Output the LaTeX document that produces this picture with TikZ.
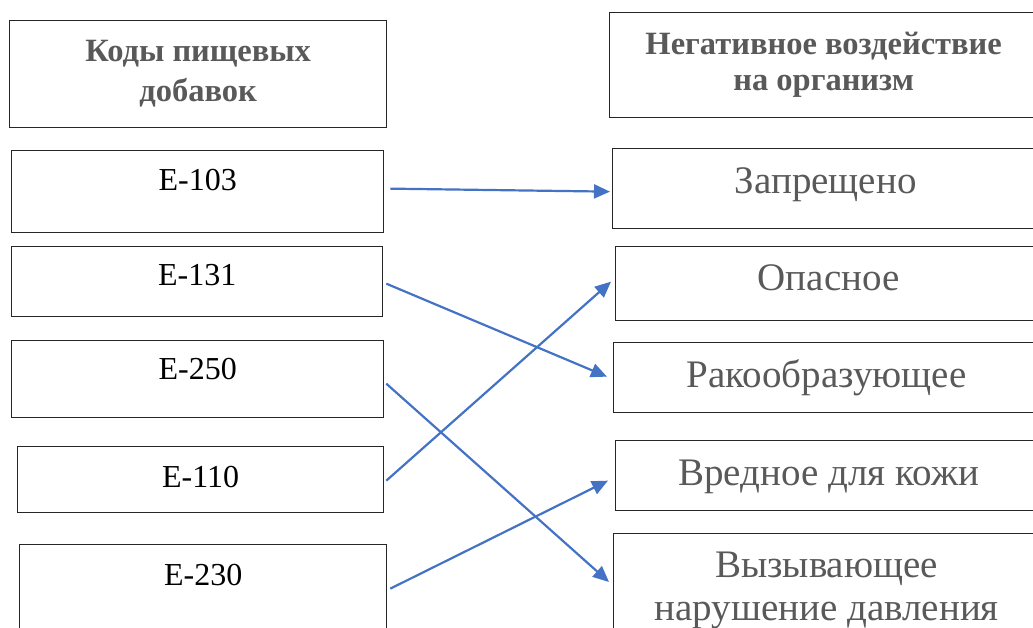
\documentclass[tikz,border=0pt]{standalone}
\usepackage{fontspec}
\setmainfont{Liberation Serif}
\usetikzlibrary{arrows.meta,calc}

\definecolor{linkblue}{HTML}{4472C4}
\definecolor{txtgray}{HTML}{595959}

\tikzset{
  box/.style={draw=black!85, line width=1.3pt, anchor=north west, inner sep=0pt},
  code/.style={box, font=\fontsize{32}{38}\selectfont},
  effect/.style={box, minimum width=426pt, text=txtgray, font=\fontsize{39}{43}\selectfont},
  head/.style={box, align=center, text=txtgray},
  link/.style={draw=linkblue, line width=2.2pt, -{Triangle[length=16pt,width=14pt]}},
}

\begin{document}
\begin{tikzpicture}[x=1pt, y=-1pt]
  \path[use as bounding box, clip] (0,0) rectangle (1033,628);

  % left column: food additive codes
  \node[head, minimum width=377pt, minimum height=107pt, font=\bfseries\fontsize{32.5}{40}\selectfont] (codes) at (9,20) {Коды пищевых\\добавок};
  \node[code, minimum width=372pt, text height=40pt, text depth=42pt] (e103) at (11,150) {E-103};
  \node[code, minimum width=371pt, text height=39pt, text depth=31pt] (e131) at (11,246) {E-131};
  \node[code, minimum width=372pt, text height=39pt, text depth=38pt] (e250) at (11,340) {E-250};
  \node[code, minimum width=366pt, text height=41pt, text depth=25pt] (e110) at (17,446) {E-110};
  \node[code, minimum width=367pt, text height=41pt, text depth=45pt] (e230) at (19,544) {E-230};

  % right column: effect on the body
  \node[head, minimum width=428pt, minimum height=105pt, font=\bfseries\fontsize{32.5}{36}\selectfont] (effects) at (609,12) {Негативное воздействие\\на организм};
  \node[effect, text height=45pt, text depth=35pt] (ban) at (612,148) {Запрещено};
  \node[effect, text height=44pt, text depth=30pt] (danger) at (615,246) {Опасное};
  \node[effect, text height=45pt, text depth=25pt] (cancer) at (613,342) {Ракообразующее};
  \node[effect, text height=45pt, text depth=25pt] (skin) at (615,440) {Вредное для кожи};
  \node[effect, align=center, minimum height=114pt] (press) at (613,533) {Вызывающее\\нарушение давления};

  % links
  \draw[link] ($(e103.east)+(6,-3)$) -- ($(ban.west)+(-2,3)$);
  \draw[link] ($(e131.east)+(3,2)$) -- ($(cancer.west)+(-6,-1)$);
  \draw[link] ($(e250.east)+(2,4.5)$) -- ($(press.north west)+(-4,49)$);
  \draw[link] ($(e110.east)+(2,1)$) -- ($(danger.west)+(-4,-2)$);
  \draw[link] ($(e230.east)+(3,1)$) -- ($(skin.west)+(-7,5)$);
\end{tikzpicture}
\end{document}
